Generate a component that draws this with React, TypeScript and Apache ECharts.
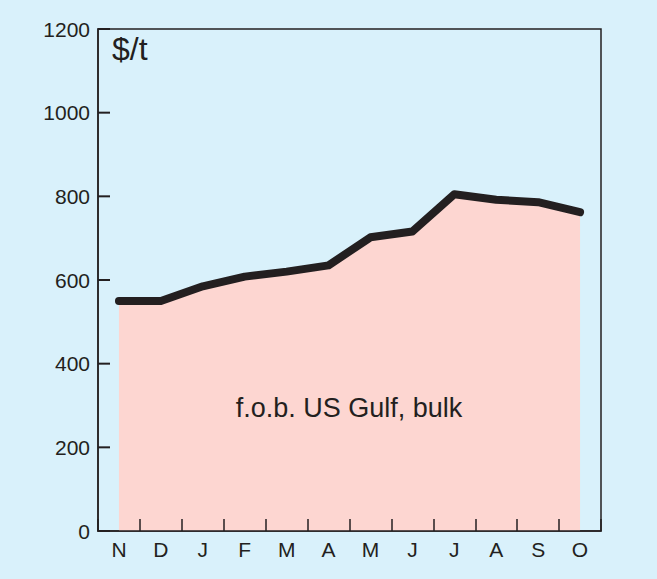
import React, { useEffect, useRef } from "react";
import * as echarts from "echarts";

const months = ["N", "D", "J", "F", "M", "A", "M", "J", "J", "A", "S", "O"];
const prices = [550, 550, 585, 608, 620, 635, 702, 716, 805, 792, 786, 762];
const yTicks = [0, 200, 400, 600, 800, 1000, 1200];
const unitLabel = "$/t";
const seriesLabel = "f.o.b. US Gulf, bulk";

const BG = "#d9f1fb";
const PINK = "#fdd6d1";
const INK = "#231f20";
const FONT = "'Liberation Sans', Arial, sans-serif";

export default function App() {
  const ref = useRef<HTMLDivElement>(null);
  useEffect(() => {
    if (!ref.current) return;
    const chart = echarts.init(ref.current, undefined, { renderer: "svg" });
    chart.setOption({
      animation: false,
      backgroundColor: BG,
      grid: {
        left: 98,
        top: 29,
        right: 56,
        bottom: 48,
        show: true,
        borderColor: INK,
        borderWidth: 1.5,
      },
      xAxis: {
        type: "category",
        data: months,
        boundaryGap: true,
        z: 5,
        axisLine: { lineStyle: { color: INK, width: 1.5 } },
        axisTick: { show: true, inside: true, length: 12, interval: 0, lineStyle: { color: INK, width: 1.5 } },
        axisLabel: { color: INK, fontFamily: FONT, fontSize: 21, margin: 8, interval: 0 },
        splitLine: { show: false },
      },
      yAxis: {
        type: "value",
        min: yTicks[0],
        max: yTicks[yTicks.length - 1],
        interval: 200,
        z: 5,
        axisLine: { show: true, onZero: false, lineStyle: { color: INK, width: 1.5 } },
        axisTick: { show: false },
        axisLabel: {
          color: INK,
          fontFamily: FONT,
          fontSize: 21,
          margin: 8,
          formatter: (v: number) => String(v),
        },
        splitLine: { show: false },
      },
      series: [
        {
          type: "line",
          data: prices,
          symbol: "none",
          lineStyle: { color: INK, width: 8, cap: "round", join: "round" },
          areaStyle: { color: PINK, opacity: 1 },
          z: 2,
        },
        {
          type: "custom",
          data: yTicks.map((v) => [0, v]),
          encode: { x: 0, y: 1 },
          silent: true,
          z: 6,
          clip: false,
          renderItem: (params: any, api: any) => {
            const cs = params.coordSys;
            const p = api.coord([0, api.value(1)]);
            return {
              type: "rect",
              shape: { x: cs.x, y: p[1] - 1, width: 12, height: 2 },
              style: { fill: INK },
            };
          },
        },
      ],
      graphic: [
        {
          type: "text",
          left: 112,
          top: 33,
          style: { text: unitLabel, fill: INK, font: `32px ${FONT}` },
          z: 10,
        },
        {
          type: "text",
          x: 349,
          y: 408,
          style: {
            text: seriesLabel,
            fill: INK,
            font: `27px ${FONT}`,
            align: "center",
            verticalAlign: "middle",
          },
          z: 10,
        },
      ],
    });
    return () => chart.dispose();
  }, []);
  return (
    <div
      ref={ref}
      style={{ position: "absolute", left: 0, top: 0, width: 657, height: 579 }}
    />
  );
}
